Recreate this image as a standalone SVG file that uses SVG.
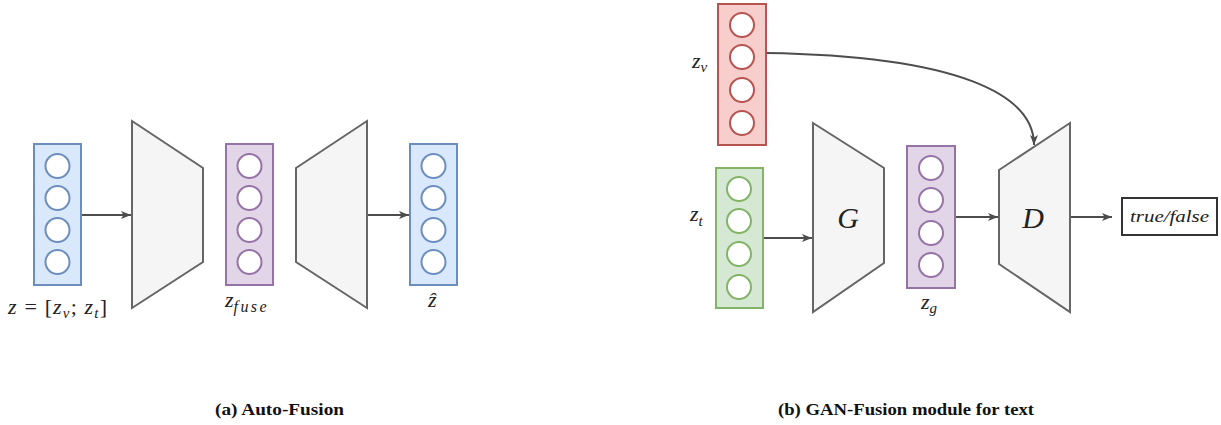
<svg xmlns="http://www.w3.org/2000/svg" width="1221" height="425" viewBox="0 0 1221 425">
<style>
.box{stroke-width:2}
.blue{fill:#dae8fc;stroke:#6c8ebf}
.purple{fill:#e1d5e7;stroke:#9673a6}
.red{fill:#f8cecc;stroke:#b85450}
.green{fill:#d5e8d4;stroke:#82b366}
.blue circle{fill:#fff;stroke:#6c8ebf;stroke-width:2}
.purple circle{fill:#fff;stroke:#9673a6;stroke-width:2}
.red circle{fill:#fff;stroke:#b85450;stroke-width:2}
.green circle{fill:#fff;stroke:#82b366;stroke-width:2}
.trap{fill:#f5f5f5;stroke:#666;stroke-width:2}
.conn{fill:none;stroke:#4d4d4d;stroke-width:2}
.math{font-family:"Liberation Serif","DejaVu Serif",serif;font-style:italic;fill:#222}
.up{font-style:normal}
.cap{font-family:"Liberation Serif",serif;font-weight:bold;font-size:17px;fill:#111}
</style>
<defs>
<marker id="arr" viewBox="0 0 10 8" refX="10" refY="4" markerWidth="10" markerHeight="8" markerUnits="userSpaceOnUse" orient="auto">
<path d="M0,0 L10,4 L0,8 L2.5,4 Z" fill="#4d4d4d"/>
</marker>
</defs>

<g id="connectors">
<path class="conn" d="M81,215 L131,215" marker-end="url(#arr)"/>
<path class="conn" d="M367,215 L409,215" marker-end="url(#arr)"/>
<path class="conn" d="M763,238 L812,238" marker-end="url(#arr)"/>
<path class="conn" d="M955,217 L998,217" marker-end="url(#arr)"/>
<path class="conn" d="M1070,217 L1112,217" marker-end="url(#arr)"/>
<path class="conn" d="M766,53 C960,56 1034,95 1034,145" marker-end="url(#arr)"/>
</g>

<g id="z-input" class="blue">
<rect class="box blue" x="34" y="144" width="47" height="141"/>
<circle cx="57.5" cy="166" r="12"/><circle cx="57.5" cy="198" r="12"/><circle cx="57.5" cy="230" r="12"/><circle cx="57.5" cy="262" r="12"/>
</g>
<g id="encoder"><polygon class="trap" points="132,121 203,168 203,262 132,308"/></g>
<g id="z-fuse" class="purple">
<rect class="box purple" x="226" y="144" width="47" height="141"/>
<circle cx="249.5" cy="166" r="12"/><circle cx="249.5" cy="198" r="12"/><circle cx="249.5" cy="230" r="12"/><circle cx="249.5" cy="262" r="12"/>
</g>
<g id="decoder"><polygon class="trap" points="296,168 367,121 367,308 296,262"/></g>
<g id="z-hat" class="blue">
<rect class="box blue" x="410" y="144" width="47" height="141"/>
<circle cx="433.5" cy="166" r="12"/><circle cx="433.5" cy="198" r="12"/><circle cx="433.5" cy="230" r="12"/><circle cx="433.5" cy="262" r="12"/>
</g>

<g id="labels-a">
<text class="math" x="8" y="314" font-size="22" textLength="99" lengthAdjust="spacing">z <tspan class="up">=</tspan> <tspan class="up">[</tspan>z<tspan font-size="15" dy="4">v</tspan><tspan dy="-4" class="up">;</tspan> z<tspan font-size="15" dy="4">t</tspan><tspan dy="-4" class="up">]</tspan></text>
<text class="math" x="225" y="307" font-size="22">z<tspan font-size="16" dy="5" textLength="33" lengthAdjust="spacing">fuse</tspan></text>
<text class="math" x="428" y="307" font-size="22">ẑ</text>
</g>

<g id="z-v" class="red">
<rect class="box red" x="718" y="4" width="48" height="141"/>
<circle cx="742" cy="25" r="12"/><circle cx="742" cy="57" r="12"/><circle cx="742" cy="90" r="12"/><circle cx="742" cy="123" r="12"/>
</g>
<g id="z-t" class="green">
<rect class="box green" x="716" y="168" width="47" height="140"/>
<circle cx="739" cy="189" r="12"/><circle cx="739" cy="221" r="12"/><circle cx="739" cy="254" r="12"/><circle cx="739" cy="287" r="12"/>
</g>
<g id="generator">
<polygon class="trap" points="813,123 884,168 884,263 813,312"/>
<text class="math" x="848" y="228" font-size="30" text-anchor="middle">G</text>
</g>
<g id="z-g" class="purple">
<rect class="box purple" x="907" y="146" width="48" height="142"/>
<circle cx="931" cy="168" r="12"/><circle cx="931" cy="200" r="12"/><circle cx="931" cy="233" r="12"/><circle cx="931" cy="265" r="12"/>
</g>
<g id="discriminator">
<polygon class="trap" points="999,170 1070,123 1070,312 999,264"/>
<text class="math" x="1033" y="228" font-size="30" text-anchor="middle">D</text>
</g>
<g id="output">
<rect x="1122" y="198" width="95" height="37" fill="#fff" stroke="#333" stroke-width="2"/>
<text class="math" x="1130" y="222" font-size="16" textLength="79" lengthAdjust="spacingAndGlyphs">true/false</text>
</g>

<g id="labels-b">
<text class="math" x="692" y="68" font-size="22">z<tspan font-size="15" dy="4">v</tspan></text>
<text class="math" x="690" y="221" font-size="22">z<tspan font-size="15" dy="5">t</tspan></text>
<text class="math" x="921" y="309" font-size="22">z<tspan font-size="15" dy="4">g</tspan></text>
</g>

<g id="captions">
<text class="cap" x="215" y="415" textLength="129" lengthAdjust="spacingAndGlyphs">(a) Auto-Fusion</text>
<text class="cap" x="778" y="415" textLength="256" lengthAdjust="spacingAndGlyphs">(b) GAN-Fusion module for text</text>
</g>
</svg>
